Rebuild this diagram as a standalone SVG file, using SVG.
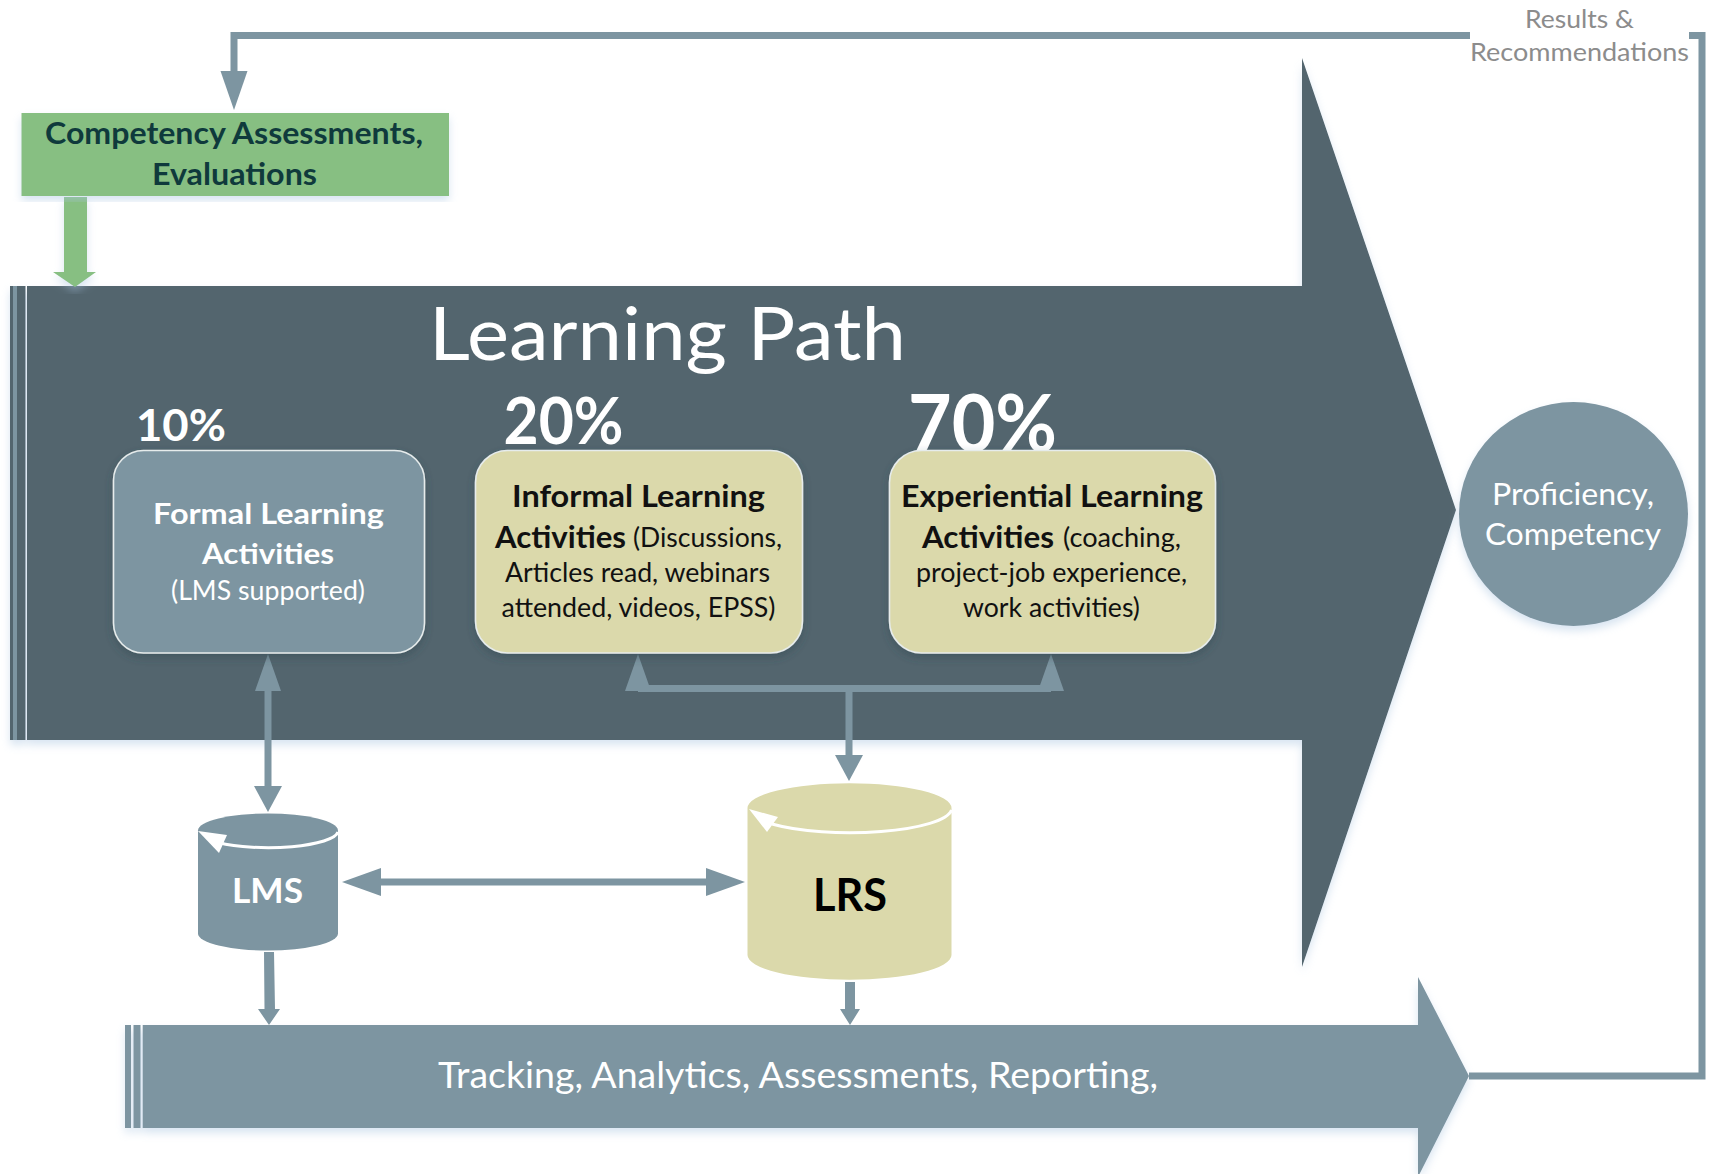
<svg xmlns="http://www.w3.org/2000/svg" width="1709" height="1174" viewBox="0 0 1709 1174">
<style>
text{font-family:"Lato","Open Sans","Liberation Sans",sans-serif}
.w{fill:#fff}.b{font-weight:700}.k{fill:#111}
.conn{fill:#7d95a1}
.line{fill:none;stroke:#7d95a1;stroke-width:7}
.box{stroke:#e6ecec;stroke-width:1.6}
</style>
<defs>
<filter id="sh" x="-5%" y="-5%" width="110%" height="112%"><feDropShadow dx="0" dy="5" stdDeviation="4" flood-color="#a9c4e0" flood-opacity=".45"/></filter>
<filter id="sd" x="-10%" y="-10%" width="120%" height="125%"><feDropShadow dx="0" dy="4" stdDeviation="4" flood-color="#2f4450" flood-opacity=".45"/></filter>
</defs>
<rect width="1709" height="1174" fill="#fff"/>
<g id="main-arrow" filter="url(#sh)">
<polygon points="27,286 1302,286 1302,58 1456,510 1302,967 1302,740 27,740" fill="#52656e"/>
<rect x="10" y="286" width="15.500" height="454" fill="#52656e"/>
<rect x="13" y="286" width="4" height="454" fill="#7d95a1"/>
</g>
<g id="main-label"><text x="429" y="360" font-size="74" class="w" textLength="477" lengthAdjust="spacingAndGlyphs">Learning Path</text>
<text x="136" y="441" font-size="44" class="w b" textLength="90" lengthAdjust="spacingAndGlyphs">10%</text>
<text x="503.500" y="444" font-size="65" class="w b" textLength="120" lengthAdjust="spacingAndGlyphs">20%</text>
<text x="908" y="452" font-size="81" class="w b" textLength="149" lengthAdjust="spacingAndGlyphs">70%</text></g>
<g id="tracking-arrow" filter="url(#sh)">
<polygon points="142.700,1025 1418,1025 1418,977 1469,1076 1418,1177 1418,1128 142.700,1128" fill="#7d95a1"/>
<rect x="125" y="1025" width="6" height="103" fill="#7d95a1"/>
<rect x="133.500" y="1025" width="7" height="103" fill="#7d95a1"/>
</g>
<text x="438" y="1088" font-size="36" class="w" textLength="720" lengthAdjust="spacingAndGlyphs">Tracking, Analytics, Assessments, Reporting,</text>
<g id="connectors">
<path class="line" d="M1470 35.500H234V75"/>
<polygon class="conn" points="220.500,71 247.500,71 234,110"/>
<path class="line" d="M1689 35.500H1702V1076H1469"/>
<path class="line" d="M268 688V790"/>
<polygon class="conn" points="255,691 268,654 281,691"/>
<polygon class="conn" points="254,786 282,786 268,812"/>
<path class="line" d="M638 688.500H1051M849 688V758"/>
<polygon class="conn" points="625,691 638,654 651,691"/>
<polygon class="conn" points="1038,691 1051,654 1064,691"/>
<polygon class="conn" points="835,755 863,755 849,781"/>
<path class="line" d="M375 882H712"/>
<polygon class="conn" points="342,882 381,868 381,896"/>
<polygon class="conn" points="745,882 706,868 706,896"/>
<polygon class="conn" points="264,952 274,952 275,1009 280,1009 269,1025 258,1009 264.500,1009"/>
<polygon class="conn" points="845,982 855,982 855,1009 860,1009 850,1025 840,1009 845,1009"/>
<g id="green-connector" filter="url(#sh)"><polygon fill="#87bf82" points="64,197 87,197 87,272 96,272 75,287 53,272 64,272"/></g>
</g>
<g id="assessments">
<rect x="21.500" y="113" width="427.500" height="83" fill="#87bf82" filter="url(#sh)"/>
<text x="45" y="144" font-size="30" font-weight="700" fill="#0f3a3c" textLength="378" lengthAdjust="spacingAndGlyphs">Competency Assessments,</text>
<text x="152" y="185" font-size="30" font-weight="700" fill="#0f3a3c" textLength="165" lengthAdjust="spacingAndGlyphs">Evaluations</text>
</g>
<g id="formal">
<rect class="box" x="113.500" y="450.500" width="311" height="202.500" rx="30" fill="#7d95a1" filter="url(#sd)"/>
<text x="153" y="523.500" font-size="29" class="w b" textLength="231" lengthAdjust="spacingAndGlyphs">Formal Learning</text>
<text x="202" y="564" font-size="29" class="w b" textLength="132" lengthAdjust="spacingAndGlyphs">Activities</text>
<text x="171" y="600" font-size="26" class="w" textLength="194" lengthAdjust="spacingAndGlyphs">(LMS supported)</text>
</g>
<g id="informal">
<rect class="box" x="475.500" y="450.500" width="327" height="202.500" rx="32" fill="#dbd9ab" filter="url(#sd)"/>
<text x="512" y="506.500" font-size="30" class="k b" textLength="253" lengthAdjust="spacingAndGlyphs">Informal Learning</text>
<text x="495" y="547.500" font-size="30" class="k b" textLength="131" lengthAdjust="spacingAndGlyphs">Activities</text>
<text x="633" y="547" font-size="26" class="k" textLength="149" lengthAdjust="spacingAndGlyphs">(Discussions,</text>
<text x="505" y="582" font-size="26" class="k" textLength="265" lengthAdjust="spacingAndGlyphs">Articles read, webinars</text>
<text x="501.500" y="617" font-size="26" class="k" textLength="274" lengthAdjust="spacingAndGlyphs">attended, videos, EPSS)</text>
</g>
<g id="experiential">
<rect class="box" x="889.500" y="450.500" width="326" height="202.500" rx="32" fill="#dbd9ab" filter="url(#sd)"/>
<text x="901" y="506.500" font-size="30" class="k b" textLength="302" lengthAdjust="spacingAndGlyphs">Experiential Learning</text>
<text x="922" y="547.500" font-size="30" class="k b" textLength="132" lengthAdjust="spacingAndGlyphs">Activities</text>
<text x="1063" y="547" font-size="26" class="k" textLength="118" lengthAdjust="spacingAndGlyphs">(coaching,</text>
<text x="916" y="582" font-size="26" class="k" textLength="271" lengthAdjust="spacingAndGlyphs">project-job experience,</text>
<text x="963" y="617" font-size="26" class="k" textLength="177" lengthAdjust="spacingAndGlyphs">work activities)</text>
</g>
<g id="proficiency">
<ellipse cx="1573.500" cy="514" rx="114.500" ry="112" fill="#7d95a1" filter="url(#sh)"/>
<text x="1492" y="505" font-size="30" class="w" textLength="162" lengthAdjust="spacingAndGlyphs">Proficiency,</text>
<text x="1485" y="545" font-size="30" class="w" textLength="176" lengthAdjust="spacingAndGlyphs">Competency</text>
</g>
<g id="results">
<text x="1525" y="28" font-size="25" fill="#8c8c8c" textLength="109" lengthAdjust="spacingAndGlyphs">Results &amp;</text>
<text x="1470" y="61" font-size="25" fill="#8c8c8c" textLength="219" lengthAdjust="spacingAndGlyphs">Recommendations</text>
</g>
<g id="lms">
<path d="M198 830.500A70 17 0 0 1 338 830.500V933.500A70 17 0 0 1 198 933.500Z" fill="#7d95a1"/>
<path d="M338 832A70 17 0 0 1 218 842.500" fill="none" stroke="#fff" stroke-width="3"/>
<polygon points="198,831 227,835 219,853" fill="#fff"/>
<text x="232" y="903" font-size="35" class="w b" textLength="71" lengthAdjust="spacingAndGlyphs">LMS</text>
</g>
<g id="lrs">
<path d="M747.500 808A102 24.700 0 0 1 951.500 808V955A102 24.700 0 0 1 747.500 955Z" fill="#dbd9ab"/>
<path d="M951.500 810A102 24.700 0 0 1 772 824" fill="none" stroke="#fff" stroke-width="3"/>
<polygon points="749,809 778,817 767,832" fill="#fff"/>
<text x="813" y="911" font-size="45" class="b" fill="#000" textLength="74" lengthAdjust="spacingAndGlyphs">LRS</text>
</g>
</svg>
